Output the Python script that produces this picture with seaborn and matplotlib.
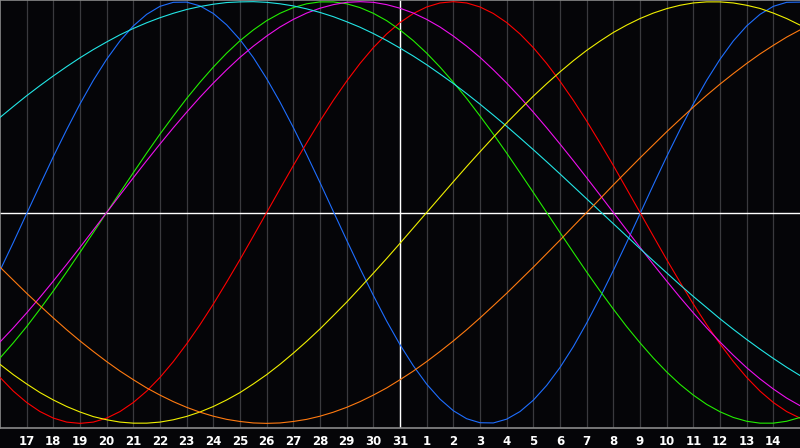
import matplotlib
matplotlib.use("Agg")
import matplotlib.pyplot as plt
import seaborn as sns
import pandas as pd

# day slots across the chart: 16th of month ... 15th of next month
DAY_LABELS = [16, 17, 18, 19, 20, 21, 22, 23, 24, 25, 26, 27, 28, 29, 30, 31,
              1, 2, 3, 4, 5, 6, 7, 8, 9, 10, 11, 12, 13, 14, 15]
TODAY = 15  # slot of the 31st, marked by the white line

# curves are read every half day (slot 0, 0.5, 1, ... 30), values -1 .. 1
SAMPLES = [k / 2 for k in range(2 * (len(DAY_LABELS) - 1) + 1)]

PHYSICAL = [
    -0.275, -0.142, -0.005, 0.131, 0.265, 0.393, 0.515, 0.627, 0.727, 0.814,
    0.885, 0.940, 0.978, 0.997, 0.998, 0.980, 0.944, 0.890, 0.820, 0.735,
    0.635, 0.524, 0.403, 0.275, 0.142, 0.005, -0.131, -0.265, -0.393, -0.515,
    -0.627, -0.727, -0.814, -0.885, -0.940, -0.978, -0.997, -0.998, -0.980, -0.944,
    -0.890, -0.820, -0.735, -0.636, -0.524, -0.403, -0.275, -0.142, -0.006, 0.131,
    0.265, 0.393, 0.515, 0.627, 0.727, 0.814, 0.885, 0.940, 0.978, 0.997,
    0.998]
EMOTIONAL = [
    -0.782, -0.847, -0.901, -0.944, -0.975, -0.994, -1.000, -0.994, -0.975, -0.944,
    -0.901, -0.847, -0.782, -0.707, -0.623, -0.532, -0.434, -0.330, -0.223, -0.112,
    0.000, 0.112, 0.223, 0.330, 0.434, 0.532, 0.623, 0.707, 0.782, 0.847,
    0.901, 0.944, 0.975, 0.994, 1.000, 0.994, 0.975, 0.944, 0.901, 0.847,
    0.782, 0.707, 0.623, 0.532, 0.434, 0.330, 0.223, 0.112, 0.000, -0.112,
    -0.223, -0.330, -0.434, -0.532, -0.623, -0.707, -0.782, -0.847, -0.901, -0.944,
    -0.975]
INTELLECTUAL = [
    -0.690, -0.618, -0.541, -0.458, -0.372, -0.282, -0.189, -0.095, 0.000, 0.095,
    0.189, 0.282, 0.372, 0.458, 0.541, 0.618, 0.690, 0.756, 0.815, 0.866,
    0.910, 0.945, 0.972, 0.990, 0.999, 0.999, 0.990, 0.972, 0.945, 0.910,
    0.866, 0.815, 0.756, 0.690, 0.618, 0.541, 0.458, 0.372, 0.282, 0.189,
    0.095, 0.000, -0.095, -0.189, -0.282, -0.372, -0.458, -0.541, -0.618, -0.690,
    -0.756, -0.815, -0.866, -0.910, -0.945, -0.972, -0.990, -0.999, -0.999, -0.990,
    -0.972]
INTUITIVE = [
    -0.614, -0.547, -0.476, -0.402, -0.325, -0.246, -0.165, -0.083, 0.000, 0.083,
    0.165, 0.246, 0.325, 0.402, 0.476, 0.547, 0.614, 0.677, 0.736, 0.789,
    0.837, 0.880, 0.916, 0.946, 0.969, 0.986, 0.997, 1.000, 0.997, 0.986,
    0.969, 0.946, 0.916, 0.880, 0.837, 0.789, 0.736, 0.677, 0.614, 0.547,
    0.476, 0.402, 0.325, 0.246, 0.165, 0.083, 0.000, -0.083, -0.165, -0.246,
    -0.325, -0.402, -0.476, -0.547, -0.614, -0.677, -0.736, -0.789, -0.837, -0.880,
    -0.916]
SPIRITUAL = [
    0.451, 0.503, 0.554, 0.602, 0.648, 0.692, 0.734, 0.773, 0.809, 0.843,
    0.873, 0.900, 0.924, 0.945, 0.963, 0.977, 0.988, 0.996, 0.999, 1.000,
    0.997, 0.990, 0.980, 0.966, 0.949, 0.929, 0.905, 0.879, 0.849, 0.816,
    0.780, 0.742, 0.701, 0.657, 0.612, 0.564, 0.514, 0.462, 0.409, 0.354,
    0.298, 0.241, 0.183, 0.124, 0.065, 0.006, -0.053, -0.112, -0.171, -0.229,
    -0.286, -0.343, -0.398, -0.451, -0.504, -0.554, -0.602, -0.648, -0.692, -0.734,
    -0.773]
AESTHETIC = [
    -0.720, -0.769, -0.813, -0.854, -0.889, -0.920, -0.946, -0.968, -0.983, -0.994,
    -0.999, -0.999, -0.994, -0.983, -0.967, -0.946, -0.920, -0.889, -0.854, -0.813,
    -0.769, -0.720, -0.667, -0.611, -0.552, -0.489, -0.425, -0.357, -0.288, -0.218,
    -0.146, -0.073, 0.000, 0.073, 0.146, 0.218, 0.288, 0.357, 0.425, 0.489,
    0.552, 0.611, 0.667, 0.720, 0.769, 0.813, 0.854, 0.889, 0.920, 0.946,
    0.967, 0.983, 0.994, 0.999, 0.999, 0.994, 0.983, 0.968, 0.946, 0.920,
    0.889]
AWARENESS = [
    -0.259, -0.321, -0.383, -0.442, -0.500, -0.556, -0.609, -0.659, -0.707, -0.752,
    -0.793, -0.832, -0.866, -0.897, -0.924, -0.947, -0.966, -0.981, -0.991, -0.998,
    -1.000, -0.998, -0.991, -0.981, -0.966, -0.947, -0.924, -0.897, -0.866, -0.832,
    -0.793, -0.752, -0.707, -0.659, -0.609, -0.556, -0.500, -0.442, -0.383, -0.321,
    -0.259, -0.195, -0.131, -0.065, 0.000, 0.065, 0.131, 0.195, 0.259, 0.321,
    0.383, 0.442, 0.500, 0.556, 0.609, 0.659, 0.707, 0.752, 0.793, 0.832,
    0.866]

SERIES = {
    "physical": PHYSICAL,
    "emotional": EMOTIONAL,
    "intellectual": INTELLECTUAL,
    "intuitive": INTUITIVE,
    "spiritual": SPIRITUAL,
    "aesthetic": AESTHETIC,
    "awareness": AWARENESS,
}

PALETTE = {
    "physical":     "#1E6EFF",
    "emotional":    "#FF0000",
    "intellectual": "#22EE00",
    "intuitive":    "#EE10EE",
    "spiritual":    "#22E6E6",
    "aesthetic":    "#F0F000",
    "awareness":    "#FF7A10",
}

BG = "#050508"

rows = []
for name, vals in SERIES.items():
    assert len(vals) == len(SAMPLES), name
    for d, v in zip(SAMPLES, vals):
        rows.append({"day": d, "value": v, "curve": name})
df = pd.DataFrame(rows)

sns.set_style("dark")
fig = plt.figure(figsize=(8, 4.48), dpi=100, facecolor=BG)
ax = fig.add_axes([0, 20 / 448, 1, 428 / 448])
ax.set_facecolor(BG)

slots = list(range(len(DAY_LABELS)))

# one faint line per day
for i in slots[1:-1]:
    ax.axvline(i, color="#3a3a3e", linewidth=0.9, zorder=1)

ax.axhline(0, color="white", linewidth=1.0, zorder=2)
ax.axvline(TODAY, color="white", linewidth=1.0, zorder=2)

sns.lineplot(data=df, x="day", y="value", hue="curve", palette=PALETTE,
             linewidth=0.8, legend=False, ax=ax, zorder=3)

ax.set_xlim(0, len(DAY_LABELS) - 1)
ax.set_ylim(-1.022, 1.008)
ax.set_xticks(slots[1:-1])
ax.set_xticklabels([str(d) for d in DAY_LABELS[1:-1]], color="white",
                   fontsize=8.5, fontweight="bold", family="DejaVu Sans")
ax.tick_params(axis="x", length=0, pad=5)
ax.set_yticks([])
ax.set_xlabel("")
ax.set_ylabel("")
ax.grid(False)

for side in ("left", "top", "bottom"):
    ax.spines[side].set_visible(True)
    ax.spines[side].set_color("#8a8a8a")
    ax.spines[side].set_linewidth(1.2)
ax.spines["right"].set_visible(False)

fig.savefig("out.png", dpi=100, facecolor=fig.get_facecolor())
plt.close(fig)
